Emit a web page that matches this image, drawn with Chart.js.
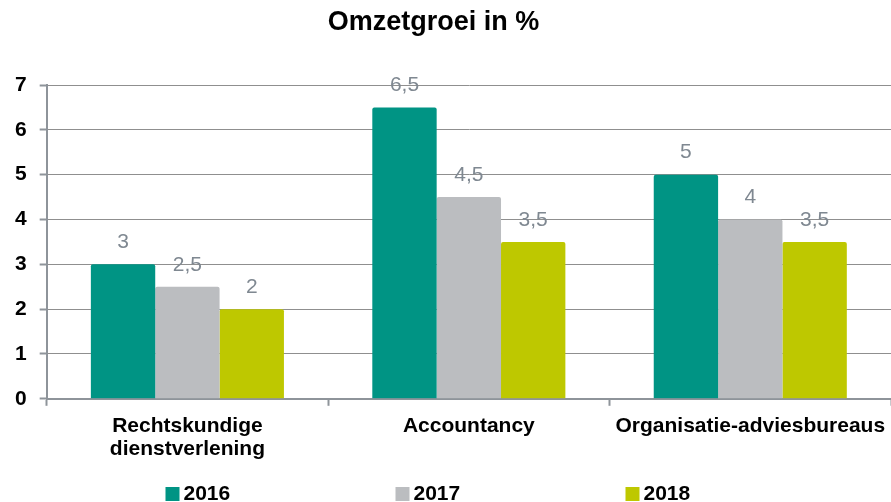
<!DOCTYPE html>
<html>
<head>
<meta charset="utf-8">
<script src="https://cdn.jsdelivr.net/npm/chart.js@4/dist/chart.umd.min.js"></script>
<style>
  html, body { margin: 0; padding: 0; background: #fff; }
  #wrap { width: 891px; height: 502px; position: relative; }
</style>
</head>
<body>
<div id="wrap"><canvas id="omzetChart"></canvas></div>
<script>
// Chart data
const categories = [
    ['Rechtskundige', 'dienstverlening'],
    'Accountancy',
    'Organisatie-adviesbureaus'
];
const years = ['2016', '2017', '2018'];
const values2016 = [3, 6.5, 5];
const values2017 = [2.5, 4.5, 4];
const values2018 = [2, 3.5, 3.5];
const yTicks = [0, 1, 2, 3, 4, 5, 6, 7];
const chartTitle = 'Omzetgroei in %';

const colors = ['#009484', '#bbbdc0', '#bec800'];
const fontFamily = '"Liberation Sans", Arial, sans-serif';
const axisColor = '#8e949a';

// value labels above the bars, Dutch decimal comma
const valueLabels = {
    id: 'valueLabels',
    afterDatasetsDraw(chart) {
        const ctx = chart.ctx;
        ctx.save();
        ctx.font = '21px ' + fontFamily;
        ctx.fillStyle = '#7f8891';
        ctx.textAlign = 'center';
        ctx.textBaseline = 'middle';
        chart.data.datasets.forEach((ds, i) => {
            chart.getDatasetMeta(i).data.forEach((bar, j) => {
                const txt = String(ds.data[j]).replace('.', ',');
                ctx.fillText(txt, bar.x, bar.y - 22);
            });
        });
        ctx.restore();
    }
};

// title (slightly left of centre) and wide-spaced legend, drawn by hand
const titleAndLegend = {
    id: 'titleAndLegend',
    afterDraw(chart) {
        const ctx = chart.ctx;
        ctx.save();
        ctx.fillStyle = '#000';
        ctx.font = 'bold 27px ' + fontFamily;
        ctx.textAlign = 'center';
        ctx.textBaseline = 'middle';
        ctx.fillText(chartTitle, chart.width / 2 - 12, 23);

        const gap = 230;
        let x = chart.width / 2 - 280;
        const y = 494;
        ctx.font = 'bold 21px ' + fontFamily;
        ctx.textAlign = 'left';
        chart.data.datasets.forEach(ds => {
            ctx.fillStyle = ds.backgroundColor;
            ctx.fillRect(x, y - 7, 14, 14);
            ctx.fillStyle = '#000';
            ctx.fillText(ds.label, x + 18, y);
            x += gap;
        });
        ctx.restore();
    }
};

const ctx = document.getElementById('omzetChart').getContext('2d');
new Chart(ctx, {
    type: 'bar',
    data: {
        labels: categories,
        datasets: [
            { label: years[0], data: values2016, backgroundColor: colors[0] },
            { label: years[1], data: values2017, backgroundColor: colors[1] },
            { label: years[2], data: values2018, backgroundColor: colors[2] }
        ]
    },
    options: {
        responsive: true,
        maintainAspectRatio: false,
        animation: false,
        layout: {
            padding: { left: 2, right: 0, top: 85, bottom: 32 }
        },
        datasets: {
            bar: {
                categoryPercentage: 0.686,
                barPercentage: 1,
                borderRadius: { topLeft: 2, topRight: 2 }
            }
        },
        scales: {
            x: {
                // let the plot run to the right edge like the original
                afterFit(axis) {
                    axis.paddingRight = 0;
                },
                grid: {
                    display: true,
                    offset: true,
                    drawOnChartArea: false,
                    drawTicks: true,
                    tickLength: 7,
                    tickColor: axisColor,
                    tickWidth: 2
                },
                border: { display: true, color: axisColor, width: 2 },
                ticks: {
                    color: '#000',
                    padding: 9,
                    maxRotation: 0,
                    autoSkip: false,
                    font: { family: fontFamily, size: 21, weight: 'bold', lineHeight: 1.1 }
                }
            },
            y: {
                min: yTicks[0],
                max: yTicks[yTicks.length - 1],
                afterBuildTicks(axis) {
                    axis.ticks = yTicks.map(v => ({ value: v }));
                },
                grid: {
                    color: '#8f8f8f',
                    lineWidth: 1,
                    borderDash: [2, 1],
                    tickLength: 7,
                    tickColor: axisColor,
                    tickBorderDash: [],
                    tickWidth: 2
                },
                border: { display: true, color: axisColor, width: 2 },
                ticks: {
                    color: '#000',
                    padding: 13,
                    font: { family: fontFamily, size: 21, weight: 'bold' }
                }
            }
        },
        plugins: {
            legend: { display: false },
            tooltip: { enabled: false },
            title: { display: false }
        }
    },
    plugins: [valueLabels, titleAndLegend]
});
</script>
</body>
</html>
